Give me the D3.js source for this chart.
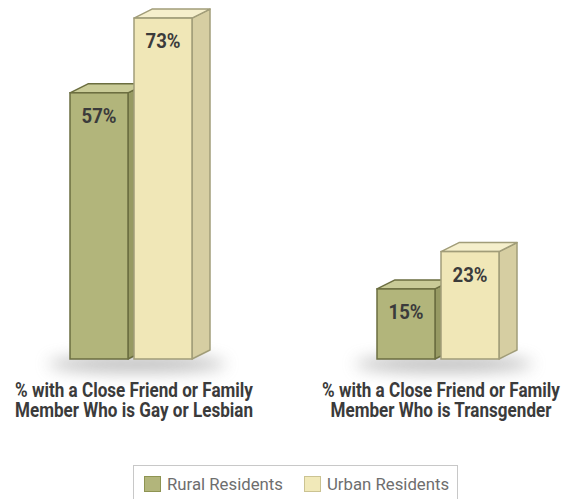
<!DOCTYPE html>
<html><head><meta charset="utf-8">
<script src="https://cdn.jsdelivr.net/npm/d3@7"></script>
<style>
html,body{margin:0;padding:0;background:#fff;}
svg{display:block;}
text{font-family:Roboto,"Liberation Sans",sans-serif;}
</style></head>
<body>
<script>
const categories = [
  ["% with a Close Friend or Family", "Member Who is Gay or Lesbian"],
  ["% with a Close Friend or Family", "Member Who is Transgender"]
];
const catKeys = ["gay", "trans"];
const seriesNames = ["Rural Residents", "Urban Residents"];
const rural = [57, 15];
const urban = [73, 23];
const seriesValues = [rural, urban];

const W = 565, H = 499;
const svg = d3.select("body").append("svg").attr("width", W).attr("height", H);

const colors = [
  {front:"#b2b57b", top:"#c9cb97", side:"#979a63", stroke:"#6b6e40", swFill:"#b2b57b", swStroke:"#8e9452"},
  {front:"#f0e7b7", top:"#f5efcc", side:"#d6cea2", stroke:"#a19d79", swFill:"#f1e9b9", swStroke:"#cbc392"}
];

const x0 = d3.scaleBand().domain(catKeys).range([70, 499]).paddingInner(185/307).paddingOuter(0);
const x1 = d3.scaleBand().domain(seriesNames).range([0, x0.bandwidth()]).paddingInner(6/64).paddingOuter(0);
const y = d3.scaleLinear().domain([0, 100]).range([359, 359 - 467]);
const dx = 18, dy = 9;

function condenseFactor(fontSize, weight, str, target) {
  const t = svg.append("text").attr("font-size", fontSize).attr("font-weight", weight).text(str);
  const w = t.node().getComputedTextLength();
  t.remove();
  return target / w;
}

const defs = svg.append("defs");
defs.append("filter").attr("id","blur").attr("x","-50%").attr("y","-300%").attr("width","200%").attr("height","700%")
  .append("feGaussianBlur").attr("stdDeviation", 8);

// shadows
svg.append("g").selectAll("ellipse").data(catKeys).join("ellipse")
  .attr("cx", d => x0(d) + x0.bandwidth()/2 + 6)
  .attr("cy", y(0) + 5)
  .attr("rx", x0.bandwidth()/2 + 28)
  .attr("ry", 8)
  .attr("fill", "#909090")
  .attr("opacity", 0.6)
  .attr("filter", "url(#blur)");

const valFont = 21;
const kVal = condenseFactor(valFont, "bold", "57%", 35);

const groups = svg.append("g").selectAll("g").data(catKeys).join("g")
  .attr("transform", d => `translate(${x0(d)},0)`);

groups.each(function(cat, ci) {
  const g = d3.select(this);
  seriesNames.forEach((s, si) => {
    const v = seriesValues[si][ci];
    const c = colors[si];
    const xl = x1(s), xr = xl + x1.bandwidth();
    const yt = y(v), yb = y(0);
    const bg = g.append("g");
    bg.append("path")
      .attr("d", `M${xr},${yb} L${xr+dx},${yb-dy} L${xr+dx},${yt-dy} L${xr},${yt} Z`)
      .attr("fill", c.side).attr("stroke", c.stroke).attr("stroke-width", 1.5).attr("stroke-linejoin","round");
    bg.append("path")
      .attr("d", `M${xl},${yt} L${xl+dx},${yt-dy} L${xr+dx},${yt-dy} L${xr},${yt} Z`)
      .attr("fill", c.top).attr("stroke", c.stroke).attr("stroke-width", 1.5).attr("stroke-linejoin","round");
    bg.append("rect")
      .attr("x", xl).attr("y", yt).attr("width", x1.bandwidth()).attr("height", yb - yt)
      .attr("fill", c.front).attr("stroke", c.stroke).attr("stroke-width", 1.5);
    bg.append("text")
      .attr("transform", `translate(${(xl + xr)/2},${yt + 30}) scale(${kVal},1)`)
      .attr("text-anchor", "middle")
      .attr("font-size", valFont).attr("font-weight", "bold").attr("fill", "#3b3b3b")
      .text(v + "%");
  });
});

// category labels
const labFont = 19.5;
const kLab = condenseFactor(labFont, "bold", categories[0][0], 238);
const labels = svg.append("g").selectAll("text").data(catKeys).join("text")
  .attr("text-anchor", "middle")
  .attr("font-size", labFont).attr("font-weight", "bold").attr("fill", "#3b3b3b")
  .attr("transform", d => `translate(${x0(d) + x0.bandwidth()/2 + 3},0) scale(${kLab},1)`);
labels.each(function(d, i) {
  d3.select(this).selectAll("tspan").data(categories[i]).join("tspan")
    .attr("x", 0).attr("y", (t, j) => 397 + j * 20).text(t => t);
});

// legend
const legFont = 17;
const kLeg = condenseFactor(legFont, "normal", seriesNames[0], 116);
const lg = svg.append("g");
lg.append("rect").attr("x", 133.5).attr("y", 465.5).attr("width", 324).attr("height", 40)
  .attr("fill", "#fff").attr("stroke", "#c8c8c8").attr("stroke-width", 1);
const legX = [144, 304];
seriesNames.forEach((s, i) => {
  lg.append("rect").attr("x", legX[i] + 0.5).attr("y", 476.5).attr("width", 16).attr("height", 15)
    .attr("fill", colors[i].swFill).attr("stroke", colors[i].swStroke).attr("stroke-width", 1);
  lg.append("text").attr("transform", `translate(${legX[i] + 23},490) scale(${kLeg},1)`)
    .attr("font-size", legFont).attr("fill", "#6e6e6e").text(s);
});
</script>
</body></html>
